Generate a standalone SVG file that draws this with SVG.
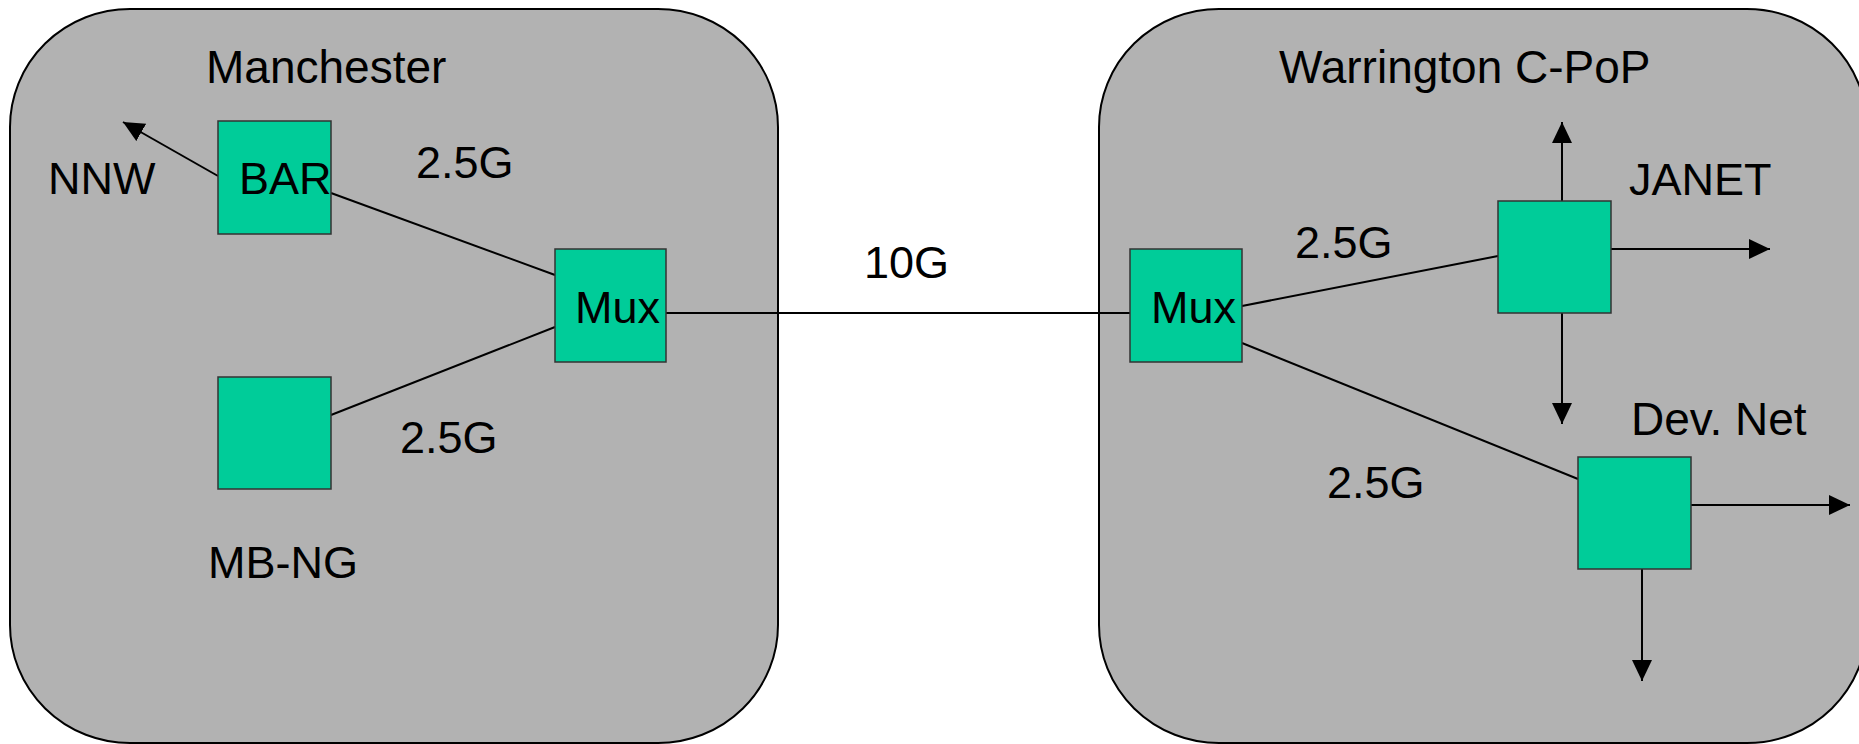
<svg xmlns="http://www.w3.org/2000/svg" width="1859" height="744" viewBox="0 0 1859 744">
<style>
.site{fill:#B2B2B2;stroke:#000;stroke-width:2}
.box{fill:#00CC99;stroke:#333;stroke-width:1.5}
.lbl{font-family:"Liberation Sans",Arial,sans-serif;font-size:45px;fill:#000}
.big{font-size:46px}
.ln{stroke:#000;stroke-width:2;fill:none}
.arr{stroke:#000;stroke-width:2;fill:none;marker-end:url(#ah)}
</style>
<defs>
<marker id="ah" markerUnits="userSpaceOnUse" markerWidth="22" markerHeight="22" refX="21" refY="10" orient="auto">
<path d="M0,0 L21,10 L0,20 Z" fill="#000"/>
</marker>
</defs>
<rect width="1859" height="744" fill="#fff"/>
<g id="manchester">
<rect class="site" x="10" y="9" width="768" height="734" rx="120" ry="118"/>
<text class="lbl big" x="206" y="83">Manchester</text>
</g>
<g id="warrington">
<rect class="site" x="1099" y="9" width="768" height="734" rx="120" ry="118"/>
<text class="lbl big" x="1279" y="83">Warrington C-PoP</text>
</g>
<g id="connectors">
<line class="arr" x1="218" y1="176" x2="123" y2="122"/>
<line class="ln" x1="331" y1="193" x2="555" y2="275"/>
<line class="ln" x1="331" y1="415" x2="555" y2="327"/>
<line class="ln" x1="666" y1="313" x2="1130" y2="313"/>
<line class="ln" x1="1242" y1="306" x2="1498" y2="256"/>
<line class="ln" x1="1242" y1="343" x2="1578" y2="479"/>
<line class="arr" x1="1562" y1="201" x2="1562" y2="122"/>
<line class="arr" x1="1611" y1="249" x2="1770" y2="249"/>
<line class="arr" x1="1562" y1="313" x2="1562" y2="424"/>
<line class="arr" x1="1691" y1="505" x2="1850" y2="505"/>
<line class="arr" x1="1642" y1="569" x2="1642" y2="681"/>
</g>
<g id="bar">
<rect class="box" x="218" y="121" width="113" height="113"/>
<text class="lbl" x="239" y="194">BAR</text>
</g>
<g id="mbng">
<rect class="box" x="218" y="377" width="113" height="112"/>
</g>
<g id="mux-left">
<rect class="box" x="555" y="249" width="111" height="113"/>
<text class="lbl" x="575" y="323">Mux</text>
</g>
<g id="mux-right">
<rect class="box" x="1130" y="249" width="112" height="113"/>
<text class="lbl" x="1151" y="323">Mux</text>
</g>
<g id="janet">
<rect class="box" x="1498" y="201" width="113" height="112"/>
</g>
<g id="devnet">
<rect class="box" x="1578" y="457" width="113" height="112"/>
</g>
<g id="labels">
<text class="lbl" x="48" y="194">NNW</text>
<text class="lbl" x="416" y="178">2.5G</text>
<text class="lbl" x="400" y="453">2.5G</text>
<text class="lbl" x="208" y="578">MB-NG</text>
<text class="lbl" x="864" y="278">10G</text>
<text class="lbl" x="1295" y="258">2.5G</text>
<text class="lbl" x="1629" y="195">JANET</text>
<text class="lbl big" x="1631" y="435">Dev. Net</text>
<text class="lbl" x="1327" y="498">2.5G</text>
</g>
</svg>
